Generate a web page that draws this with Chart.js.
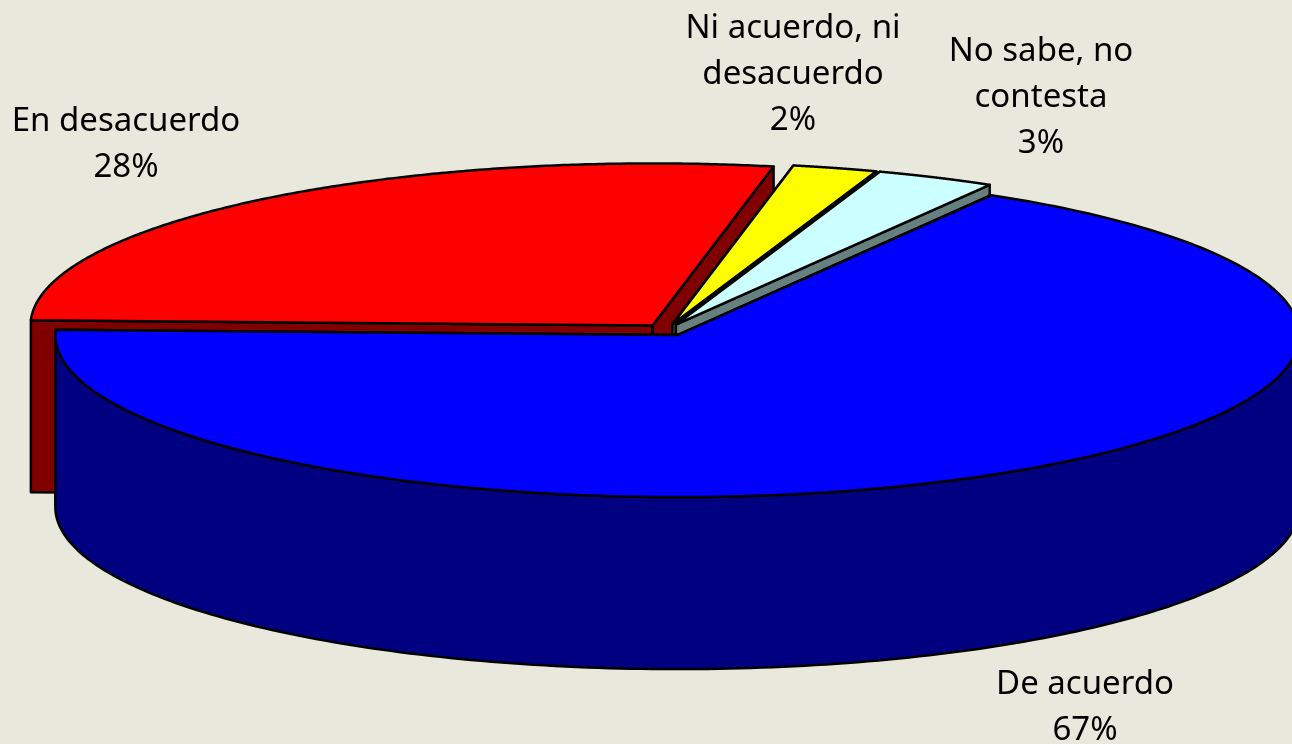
<!DOCTYPE html>
<html><head><meta charset="utf-8">
<style>html,body{margin:0;padding:0;background:#E8E8DC;overflow:hidden}#wrap{position:relative;width:1292px;height:744px}</style>
<script src="https://cdn.jsdelivr.net/npm/chart.js@4/dist/chart.umd.min.js"></script>
</head><body><div id="wrap"><canvas id="c" width="1292" height="744"></canvas></div>
<script>
const categories = ['De acuerdo', 'En desacuerdo', 'Ni acuerdo, ni desacuerdo', 'No sabe, no contesta'];
const values = [67.1, 27.6, 2.2, 3.1];
const topColors = ['#0000FF', '#FF0000', '#FFFF00', '#CCFFFF'];
const wallColors = ['#000080', '#800000', '#808000', '#668080'];
const labelLines = [['De acuerdo', '67%'], ['En desacuerdo', '28%'], ['Ni acuerdo, ni', 'desacuerdo', '2%'], ['No sabe, no', 'contesta', '3%']];
const labelPos = [[1085, 685], [126, 122], [793, 29], [1041, 52]];
const paintOrder = [1, 2, 3, 0];
const view = {cx: 666.5, cy: 330, rx: 622, ry: 162, depth: 172, lineH: 46, font: '33px "Noto Sans"'};

const pie3d = {
  id: 'pie3d',
  beforeDatasetDraw(chart) {
    const ctx = chart.ctx, arcs = chart.getDatasetMeta(0).data;
    paintOrder.forEach(i => {
      const el = arcs[i];
      const mid = (el.startAngle + el.endAngle) / 2;
      const off = el.options.offset / 4;
      const ox = Math.cos(mid) * off, oy = Math.sin(mid) * off;
      const project = (a, r) => [
        view.cx + (ox + Math.cos(a) * r) * view.rx / el.outerRadius,
        view.cy + (oy + Math.sin(a) * r) * view.ry / el.outerRadius
      ];
      const N = 240, pts = [], front = [];
      for (let k = 0; k <= N; k++) {
        const a = el.startAngle + (el.endAngle - el.startAngle) * k / N;
        const p = project(a, el.outerRadius);
        pts.push(p);
        if (Math.sin(a) >= -0.001) front.push(p);
      }
      const c = project(0, 0);
      ctx.save();
      ctx.lineWidth = 2.5; ctx.strokeStyle = '#000'; ctx.lineJoin = 'round';
      ctx.fillStyle = wallColors[i];
      // wall: the two radial faces
      [pts[0], pts[N]].forEach(p => {
        ctx.beginPath();
        ctx.moveTo(c[0], c[1]); ctx.lineTo(p[0], p[1]);
        ctx.lineTo(p[0], p[1] + view.depth); ctx.lineTo(c[0], c[1] + view.depth);
        ctx.closePath(); ctx.fill(); ctx.stroke();
      });
      // wall: the front-facing part of the rim
      if (front.length > 1) {
        ctx.beginPath();
        front.forEach((p, k) => k ? ctx.lineTo(p[0], p[1]) : ctx.moveTo(p[0], p[1]));
        for (let k = front.length - 1; k >= 0; k--) ctx.lineTo(front[k][0], front[k][1] + view.depth);
        ctx.closePath(); ctx.fill(); ctx.stroke();
      }
      // top
      ctx.fillStyle = topColors[i];
      ctx.beginPath(); ctx.moveTo(c[0], c[1]);
      pts.forEach(p => ctx.lineTo(p[0], p[1]));
      ctx.closePath(); ctx.fill(); ctx.stroke();
      ctx.restore();
    });
    return false;
  },
  afterDraw(chart) {
    const ctx = chart.ctx;
    ctx.save();
    ctx.fillStyle = '#000'; ctx.font = view.font;
    ctx.textAlign = 'center'; ctx.textBaseline = 'middle';
    labelLines.forEach((lines, i) => lines.forEach((t, j) =>
      ctx.fillText(t, labelPos[i][0], labelPos[i][1] + j * view.lineH)));
    ctx.restore();
  }
};

new Chart(document.getElementById('c'), {
  type: 'pie',
  data: {labels: categories, datasets: [{data: values, backgroundColor: topColors, borderWidth: 0, offset: 50}]},
  options: {
    responsive: false, animation: false, rotation: 30.3,
    layout: {padding: 0},
    plugins: {legend: {display: false}, tooltip: {enabled: false}}
  },
  plugins: [pie3d]
});
</script></body></html>
